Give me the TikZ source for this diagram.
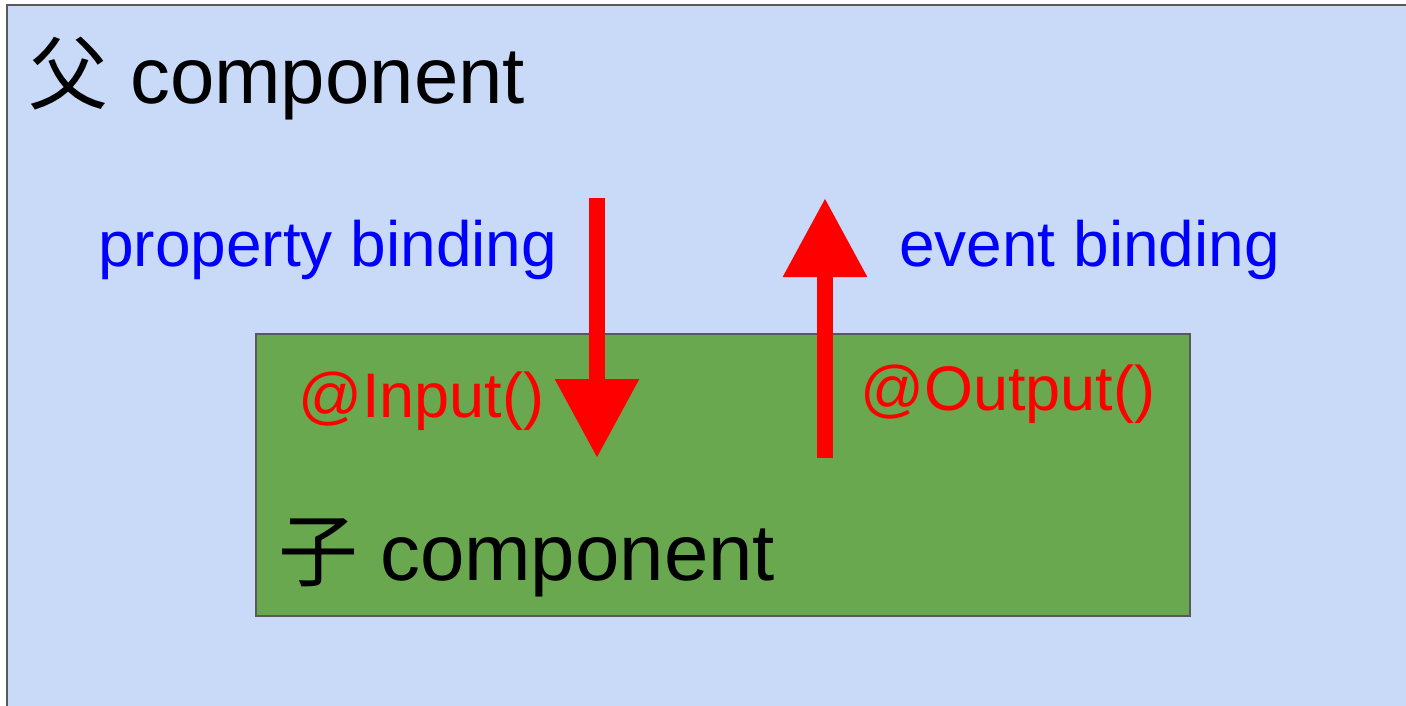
\documentclass[tikz,border=0pt]{standalone}
\usepackage{fontspec}
\setmainfont{Liberation Sans}
\newfontfamily\cjk{Noto Sans CJK SC}
\usetikzlibrary{arrows.meta}
\definecolor{outerfill}{HTML}{C9DAF8}
\definecolor{innerfill}{HTML}{6AA84F}
\definecolor{boxline}{HTML}{595959}
\definecolor{pblue}{HTML}{0000FF}
\definecolor{pred}{HTML}{FF0000}
\tikzset{
  boxstyle/.style={draw=boxline, line width=2.5pt},
  bigtext/.style={anchor=base west, inner sep=0pt, font=\fontsize{79.8}{90}\selectfont},
  labtext/.style={anchor=base west, inner sep=0pt, font=\fontsize{64}{72}\selectfont},
  redtext/.style={anchor=base west, inner sep=0pt, text=pred, font=\fontsize{63}{72}\selectfont},
  bindarrow/.style={draw=pred, line width=16pt, -{Triangle[width=80pt,length=79pt]}, fill=pred},
}
\begin{document}
\begin{tikzpicture}[x=1pt,y=-1pt]
\useasboundingbox (0,0) rectangle (1406,706);
\clip (0,0) rectangle (1406,706);
% outer (parent) box
\path[boxstyle, fill=outerfill] (7,5) rectangle (1430,730);
% inner (child) box
\path[boxstyle, fill=innerfill] (256,334) rectangle (1190,616);
% texts
\node[bigtext] (parent) at (28,104) {{\cjk 父} component};
\node[bigtext] (child) at (278,580) {{\cjk 子} component};
\node[labtext, text=pblue] (prop) at (98,266) {property binding};
\node[labtext, text=pblue] (event) at (899,266) {event binding};
\node[redtext] (input) at (298,417) {@Input()};
\node[redtext] (output) at (860,410) {@Output()};
% arrows
\coordinate (pa) at (597,198);
\coordinate (pb) at (597,458);
\coordinate (ea) at (825,458);
\coordinate (eb) at (825,198);
\draw[bindarrow] (pa) -- (pb);
\draw[bindarrow] (ea) -- (eb);
\end{tikzpicture}
\end{document}
